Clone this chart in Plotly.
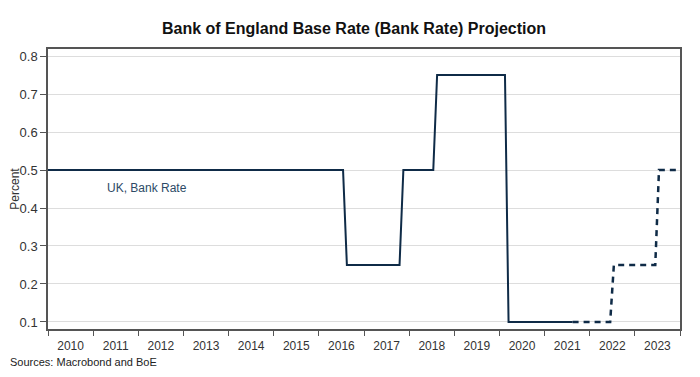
import plotly.graph_objects as go

# Actual Bank Rate (monthly step points)
actual_dates = ["2010-01-01", "2016-07-15", "2016-08-15", "2017-10-15", "2017-11-15",
                "2018-07-15", "2018-08-15", "2020-02-15", "2020-03-15", "2021-08-15"]
actual_rates = [0.5, 0.5, 0.25, 0.25, 0.5, 0.5, 0.75, 0.75, 0.1, 0.1]

# Projected Bank Rate
proj_dates = ["2021-08-15", "2022-06-15", "2022-07-15", "2023-06-15", "2023-07-15", "2024-01-01"]
proj_rates = [0.1, 0.1, 0.25, 0.25, 0.5, 0.5]

y_ticks = [0.1, 0.2, 0.3, 0.4, 0.5, 0.6, 0.7, 0.8]

line_color = "#0f2b47"

fig = go.Figure()
fig.add_trace(go.Scatter(x=actual_dates, y=actual_rates, mode="lines",
                         line=dict(color=line_color, width=2), showlegend=False,
                         name="UK, Bank Rate"))
fig.add_trace(go.Scatter(x=proj_dates, y=proj_rates, mode="lines",
                         line=dict(color=line_color, width=2.5, dash="6px,5px"), showlegend=False,
                         name="Projection"))

# page body has an 8px default margin, so the figure is sized to fit the window
fig.update_layout(
    width=692, height=369,
    margin=dict(l=40, r=20, t=41, b=48, autoexpand=False),
    paper_bgcolor="white", plot_bgcolor="white",
    font=dict(family="Liberation Sans, Arial, sans-serif", color="#333333"),
    title=dict(text="<b>Bank of England Base Rate (Bank Rate) Projection</b>",
               x=0.5, xanchor="center", y=0.946, yanchor="middle",
               font=dict(size=16, color="#111111")),
    xaxis=dict(type="date", range=["2010-01-01", "2024-01-01"], automargin=False,
               tick0="2010-01-01", dtick="M12", tickformat="%Y", ticklabelmode="period",
               showgrid=False, ticks="outside", ticklen=5, tickcolor="#555555",
               showline=True, linecolor="#555555", linewidth=1.5, mirror=True,
               tickfont=dict(size=12, color="#333333")),
    yaxis=dict(range=[0.0815, 0.8185], tickvals=y_ticks, automargin=False,
               ticktext=[f"{v:.1f}" for v in y_ticks],
               showgrid=True, gridcolor="#dddddd", gridwidth=1,
               ticks="outside", ticklen=6, tickcolor="#555555",
               showline=True, linecolor="#555555", linewidth=1.5, mirror=True,
               zeroline=False,
               title=dict(text="Percent", font=dict(size=12, color="#333333"), standoff=6),
               tickfont=dict(size=13, color="#333333")),
)

fig.add_annotation(x="2012-03-15", y=0.452, text="UK, Bank Rate", showarrow=False,
                   font=dict(size=12, color="#2d4a66"), xanchor="center", yanchor="middle")

fig.add_annotation(xref="paper", yref="paper", x=-0.0633, y=-0.118, xanchor="left", yanchor="middle",
                   text="Sources: Macrobond and BoE", showarrow=False,
                   font=dict(size=11, color="#222222"))

fig.write_html("out.html")
